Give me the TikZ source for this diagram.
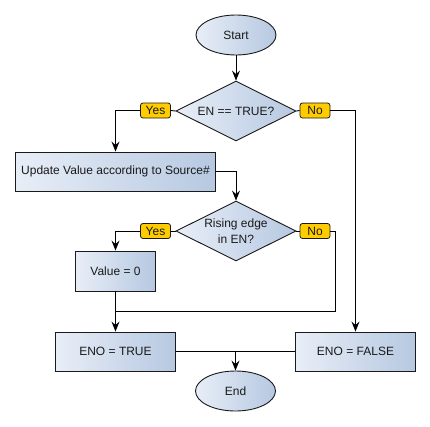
\documentclass[tikz,border=0pt]{standalone}
\usepackage{fontspec}
\setmainfont{Liberation Sans}
\usetikzlibrary{shapes.geometric,arrows.meta}
\definecolor{gleft}{HTML}{E8EEF7}
\definecolor{gright}{HTML}{B6C8E1}
\definecolor{lblfill}{HTML}{FFCC00}
\definecolor{edge}{HTML}{1A1A1A}
\begin{document}
\begin{tikzpicture}[x=1pt,y=-1pt,
  every node/.style={font=\fontsize{12}{16}\selectfont, text=edge},
  grad/.style={draw=edge, line width=0.9pt, left color=gleft, right color=gright},
  term/.style={grad, ellipse, minimum width=80pt, minimum height=40pt, inner sep=0pt},
  proc/.style={grad, rectangle, minimum height=39pt, inner sep=0pt},
  decide/.style={grad, diamond, aspect=2, minimum width=120pt, minimum height=60pt, inner sep=0pt, align=center},
  lbl/.style={draw=edge, line width=0.8pt, fill=lblfill, rounded corners=2.5pt, minimum width=30pt, minimum height=15pt, inner sep=0pt},
  conn/.style={draw=black, line width=0.9pt},
  arr/.style={conn, -{Stealth[length=10pt, width=8pt, inset=3.5pt]}}]
\useasboundingbox (0,0) rectangle (430,426);
\fill[white] (0,0) rectangle (430,426);
\node[term] (start) at (236,35) {Start};
\node[decide] (d1) at (236,111) {EN == TRUE?};
\node[lbl] (yes1) at (155.5,110.5) {Yes};
\node[lbl] (no1) at (315,110.5) {No};
\node[proc, minimum width=200pt] (upd) at (115.5,171.5) {Update Value according to Source\#};
\node[decide] (d2) at (236,231) {Rising edge\\in EN?};
\node[lbl] (yes2) at (155.5,231) {Yes};
\node[lbl] (no2) at (315,231) {No};
\node[proc, minimum width=80pt, minimum height=40pt] (val) at (115.5,271) {Value = 0};
\node[proc, minimum width=120pt] (enoT) at (115.5,351.5) {ENO = TRUE};
\node[proc, minimum width=120pt] (enoF) at (355.5,351.5) {ENO = FALSE};
\node[term] (end) at (235.5,391) {End};
\coordinate (j) at (115.5,311);
\coordinate (nc) at (335,311);
\coordinate (m) at (235.5,351.5);
\draw[arr] (start) -- (d1);
\draw[conn] (d1.west) -- (yes1.east);
\draw[arr] (yes1.west) -| (upd.north);
\draw[conn] (d1.east) -- (no1.west);
\draw[arr] (no1.east) -| (enoF.north);
\draw[arr] (upd.east) -| (d2.north);
\draw[conn] (d2.west) -- (yes2.east);
\draw[arr] (yes2.west) -| (val.north);
\draw[conn] (d2.east) -- (no2.west);
\draw[conn] (no2.east) -| (nc) -- (j);
\draw[arr] (val.south) -- (enoT.north);
\draw[conn] (enoT.east) -- (enoF.west);
\draw[arr] (m) -- (end.north);
\end{tikzpicture}
\end{document}
